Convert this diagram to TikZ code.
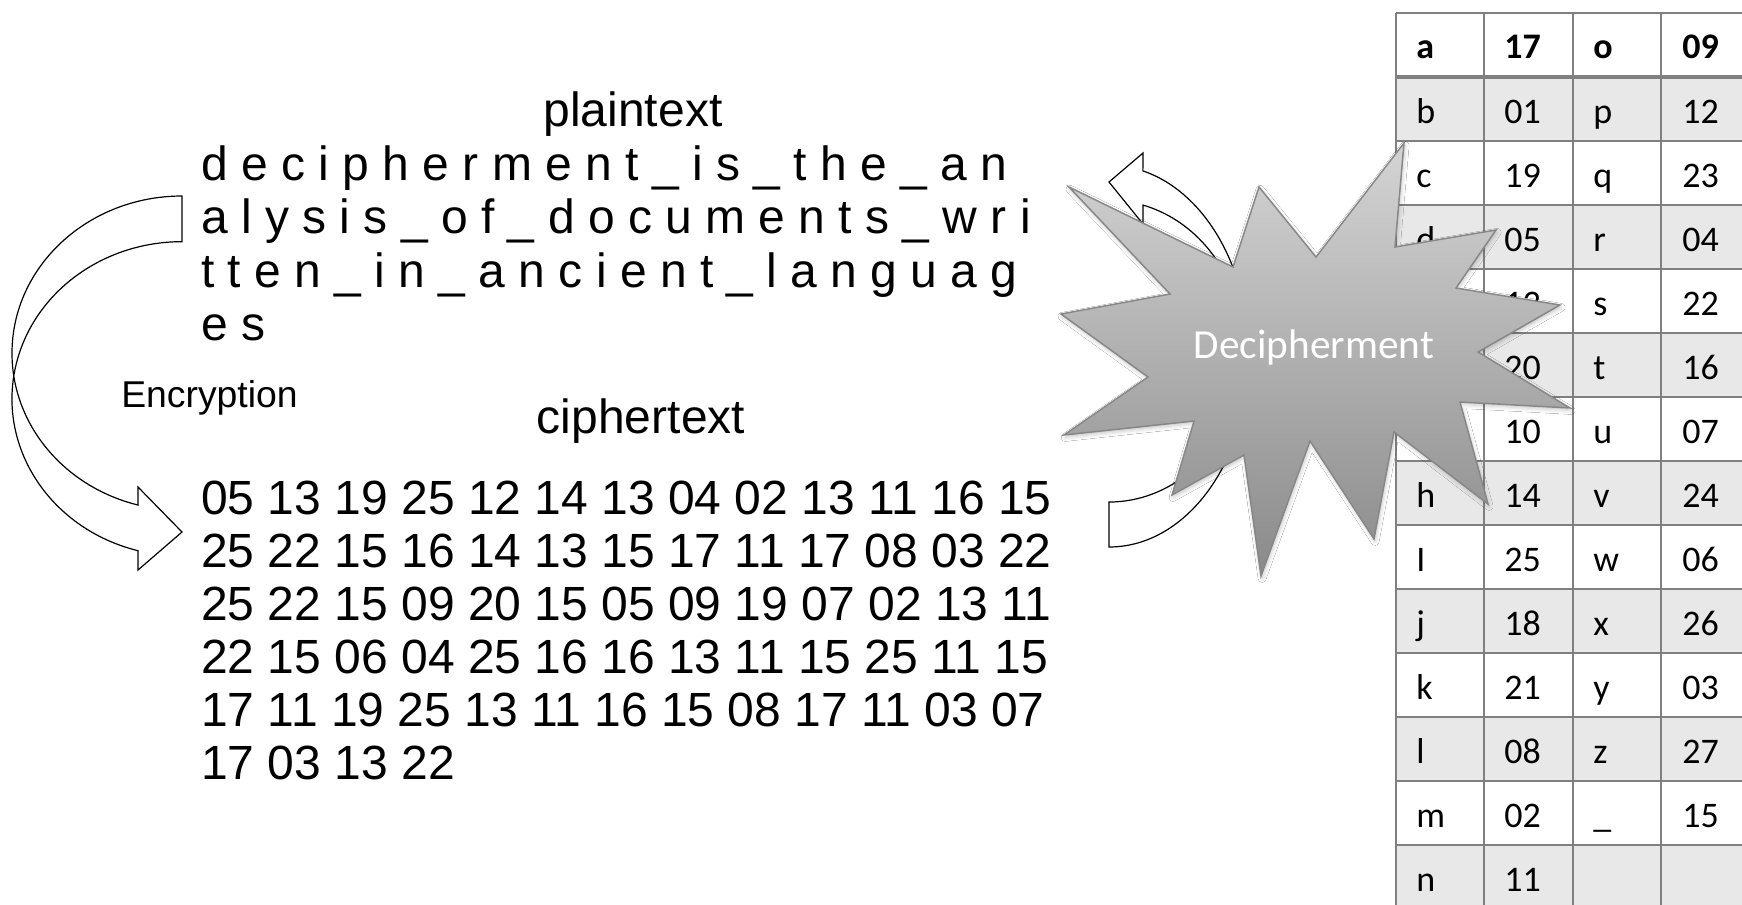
\documentclass[tikz,border=0pt]{standalone}
\usepackage{fontspec}
\setmainfont{Liberation Sans}
\newfontfamily\calib{Carlito}
\usetikzlibrary{shadows.blur}

\definecolor{tline}{RGB}{128,128,128}
\definecolor{rowgray}{RGB}{232,232,232}
\definecolor{startop}{RGB}{212,212,212}
\definecolor{starbot}{RGB}{138,138,138}
\definecolor{staredge}{RGB}{135,135,135}

\begin{document}
\begin{tikzpicture}[x=0.75pt,y=-0.75pt,
  big/.style={inner sep=0pt, font=\fontsize{36}{40}\selectfont},
  mid/.style={inner sep=0pt, font=\fontsize{28}{32}\selectfont},
  cell/.style={inner sep=0pt, anchor=base west, font=\calib\fontsize{27}{30}\selectfont},
  headcell/.style={cell, font=\calib\bfseries\fontsize{27}{30}\selectfont},
  gridline/.style={draw=tline, line width=1.5pt},
  blockarrow/.style={draw=black, fill=white, line width=0.9pt, line join=miter},
  burst/.style={draw=staredge, line width=1.1pt, line join=miter, top color=startop, bottom color=starbot,
    blur shadow={shadow xshift=0.8pt, shadow yshift=-1.8pt, shadow blur radius=3pt, shadow opacity=22}},
  bursttext/.style={inner sep=0pt, text=white, font=\calib\fontsize{31}{34}\selectfont}
]
\useasboundingbox (0,0) rectangle (1742,904);
\clip (0,0) rectangle (1742,904);
\fill[white] (0,0) rectangle (1742,904);

% ---------------- substitution table ----------------
\foreach \i in {1,3,...,13}
  \fill[rowgray] (1396,{13+64*\i}) rectangle (1760,{13+64*(\i+1)});

\foreach \i in {0,2,3,...,14}
  \draw[gridline] (1396,{13+64*\i}) -- (1760,{13+64*\i});
\draw[draw=tline, line width=3pt] (1396,77) -- (1760,77);
\foreach \x in {1396,1484,1573,1661}
  \draw[gridline] (\x,13) -- (\x,920);

\node[headcell] (ka) at (1416,58) {a};
\node[headcell] (va) at (1504,58) {17};
\node[headcell] (ko) at (1593,58) {o};
\node[headcell] (vo) at (1682,58) {09};

% letters of rows e, f and g lie under the burst and are left out
\foreach \i/\ka/\va/\kb/\vb in {
  1/b/01/p/12, 2/c/19/q/23, 3/d/05/r/04, 4//13/s/22, 5//20/t/16,
  6//10/u/07, 7/h/14/v/24, 8/I/25/w/06, 9/j/18/x/26, 10/k/21/y/03,
  11/l/08/z/27, 12/m/02/\_/15, 13/n/11//}{
  \node[cell] (kl\i) at (1416,{13+64*\i+46}) {\ka};
  \node[cell] (vl\i) at (1504,{13+64*\i+46}) {\va};
  \node[cell] (kr\i) at (1593,{13+64*\i+46}) {\kb};
  \node[cell] (vr\i) at (1682,{13+64*\i+46}) {\vb};
}

% ---------------- plaintext ----------------
\node[big, anchor=base] (ptitle) at (633,126) {plaintext};
\node[big, anchor=base west] (pl1) at (201,180) {d e c i p h e r m e n t \_ i s \_ t h e \_ a n};
\node[big, anchor=base west] (pl2) at (201,233) {a l y s i s \_ o f \_ d o c u m e n t s \_ w r i};
\node[big, anchor=base west] (pl3) at (201,287) {t t e n \_ i n \_ a n c i e n t \_ l a n g u a g};
\node[big, anchor=base west] (pl4) at (201,340) {e s};

\node[mid, anchor=base west] (enc) at (121,407) {Encryption};

% ---------------- ciphertext ----------------
\node[big, anchor=base] (ctitle) at (641,433) {ciphertext};
\node[big, anchor=base west] (cl1) at (201,514) {05 13 19 25 12 14 13 04 02 13 11 16 15};
\node[big, anchor=base west] (cl2) at (201,567) {25 22 15 16 14 13 15 17 11 17 08 03 22};
\node[big, anchor=base west] (cl3) at (201,620) {25 22 15 09 20 15 05 09 19 07 02 13 11};
\node[big, anchor=base west] (cl4) at (201,673) {22 15 06 04 25 16 16 13 11 15 25 11 15};
\node[big, anchor=base west] (cl5) at (201,726) {17 11 19 25 13 11 16 15 08 17 11 03 07};
\node[big, anchor=base west] (cl6) at (201,779) {17 03 13 22};

% ---------------- curved block arrows ----------------
% encryption: from the plaintext round the left side down to the ciphertext
\path[blockarrow] (182,196)
  arc[start angle=270, end angle=105, x radius=170, y radius=157.2]
  -- (138,487) -- (182,532) -- (138,570) -- (138,550.7)
  arc[start angle=105, end angle=270, x radius=170, y radius=157.2]
  -- cycle;

% decipherment: from the ciphertext round the right side up to the plaintext
\path[blockarrow] (1109,547)
  arc[start angle=90, end angle=-76, x radius=140, y radius=190.9]
  -- (1143,153) -- (1109,182) -- (1143,224) -- (1143,205.1)
  arc[start angle=-75.4, end angle=90, x radius=135, y radius=150.9]
  -- cycle;

% ---------------- explosion burst ----------------
\path[burst] (1069,187) -- (1233,267) -- (1259,187) -- (1316,257) -- (1404,143)
  -- (1395,247) -- (1496,230) -- (1456,288) -- (1560,305) -- (1478,352)
  -- (1570,408) -- (1460,402) -- (1488,504) -- (1394,432) -- (1374,539)
  -- (1310,441) -- (1261,576) -- (1244,455) -- (1172,495) -- (1194,421)
  -- (1064,435) -- (1148,377) -- (1061,314) -- (1170,294) -- cycle;
\node[bursttext, anchor=base] (dec) at (1314,358) {Decipherment};
\end{tikzpicture}
\end{document}
